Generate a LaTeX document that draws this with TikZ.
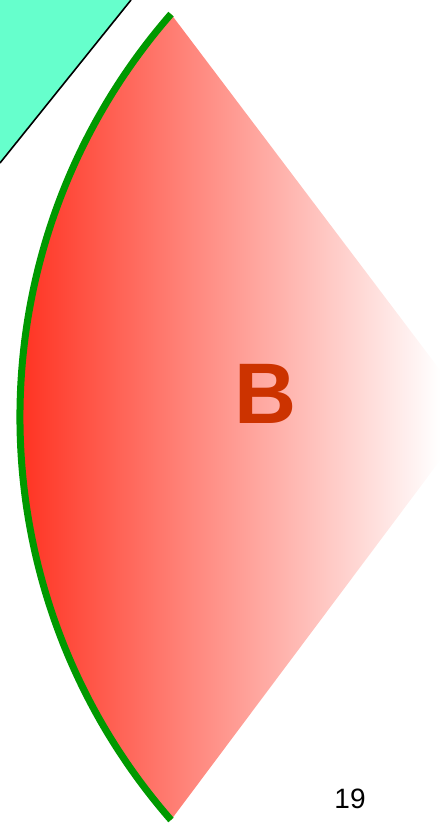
\documentclass[tikz,border=0pt]{standalone}
\usepackage{fontspec}
\setmainfont{Liberation Sans}

\definecolor{aqua}{RGB}{102,255,204}
\definecolor{sectorred}{RGB}{255,51,34}
\definecolor{sectormid}{RGB}{255,182,176}
\definecolor{arcgreen}{RGB}{0,153,0}
\definecolor{labelred}{RGB}{204,51,0}

\begin{document}
\begin{tikzpicture}[x=1pt, y=-1pt, line join=round]

        \useasboundingbox (0,0) rectangle (442,829);
        \clip (0,0) rectangle (442,829);

        % ====================
        % 1. Corner piece
        % ====================
        \fill[aqua] (0,0) -- (131,0) -- (0,163) -- cycle;
        \draw[line width=1.6pt] (0,163) -- (131,0);

        % ====================
        % 2. Sector B
        % ====================
        \coordinate (top) at (171,14);
        \coordinate (tip) at (474,415);
        \coordinate (bot) at (171,820);

        \begin{scope}
            \clip (top) -- (tip) -- (bot) arc[start angle=138.9, end angle=221.1, radius=613] -- cycle;
            \shade[left color=sectorred, middle color=sectormid, right color=white]
                (20,0) rectangle (440,829);
        \end{scope}

        % Rim of the sector
        \draw[arcgreen, line width=7pt] (bot) arc[start angle=138.9, end angle=221.1, radius=613];

        \node[labelred, font=\bfseries\fontsize{86}{86}\selectfont] (label) at (266,394) {B};

        % ====================
        % 3. Page number
        % ====================
        \node[font=\fontsize{28}{28}\selectfont] (page) at (350,799) {19};

\end{tikzpicture}
\end{document}
